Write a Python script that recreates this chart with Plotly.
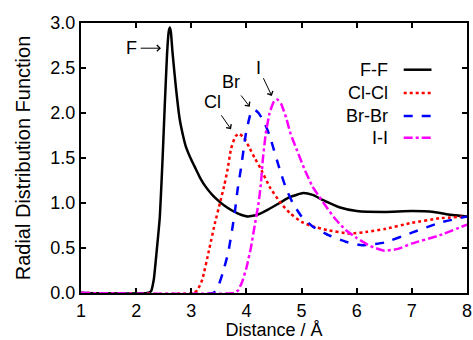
import plotly.graph_objects as go

# ---- data ----
ff_x = [1.0, 2.2, 2.27, 2.32, 2.37, 2.43, 2.48, 2.52, 2.56, 2.59, 2.61, 2.63, 2.66, 2.72, 2.79, 2.85,
        2.9, 3.0, 3.08, 3.16, 3.25, 3.38, 3.52, 3.65, 3.79, 3.9, 4.03, 4.2, 4.4, 4.6, 4.8, 5.03, 5.2,
        5.4, 5.7, 6.0, 6.5, 7.0, 7.4, 7.7, 8.0]
ff_y = [0.0, 0.0, 0.02, 0.15, 0.45, 0.85, 1.5, 2.1, 2.65, 2.9, 2.95, 2.9, 2.67, 2.29, 1.93, 1.75,
        1.63, 1.48, 1.38, 1.28, 1.19, 1.09, 1.01, 0.95, 0.9, 0.87, 0.85, 0.87, 0.93, 1.0, 1.07, 1.11, 1.09,
        1.03, 0.95, 0.91, 0.9, 0.91, 0.9, 0.87, 0.85]

cl_x = [1.0, 3.05, 3.12, 3.2, 3.33, 3.43, 3.52, 3.6, 3.66, 3.72, 3.8, 3.86, 3.95, 4.05, 4.15, 4.26,
        4.42, 4.62, 4.8, 5.0, 5.2, 5.46, 5.87, 6.2, 6.5, 7.0, 7.5, 8.0]
cl_y = [0.0, 0.0, 0.04, 0.15, 0.5, 0.78, 1.0, 1.2, 1.38, 1.6, 1.74, 1.77, 1.73, 1.62, 1.5, 1.38,
        1.18, 1.0, 0.88, 0.79, 0.74, 0.7, 0.66, 0.68, 0.71, 0.78, 0.83, 0.85]

br_x = [1.0, 3.4, 3.48, 3.57, 3.67, 3.74, 3.79, 3.84, 3.9, 3.99, 4.07, 4.14, 4.22, 4.32, 4.42, 4.6,
        4.72, 4.84, 5.0, 5.2, 5.5, 5.8, 6.1, 6.5, 7.0, 7.5, 8.0]
br_y = [0.0, 0.0, 0.06, 0.22, 0.45, 0.7, 0.9, 1.15, 1.38, 1.77, 1.98, 2.04, 2.0, 1.9, 1.75, 1.38,
        1.16, 1.0, 0.85, 0.74, 0.64, 0.57, 0.53, 0.56, 0.67, 0.78, 0.85]

ii_x = [1.0, 3.78, 3.85, 3.92, 4.0, 4.08, 4.15, 4.22, 4.26, 4.3, 4.35, 4.42, 4.5, 4.56, 4.63, 4.72,
        4.8, 4.92, 5.05, 5.2, 5.4, 5.6, 5.8, 6.0, 6.25, 6.5, 6.75, 7.0, 7.5, 8.0]
ii_y = [0.0, 0.0, 0.03, 0.12, 0.28, 0.5, 0.75, 1.0, 1.2, 1.5, 1.77, 2.0, 2.13, 2.15, 2.1, 1.95,
        1.77, 1.58, 1.38, 1.18, 1.0, 0.83, 0.7, 0.61, 0.52, 0.47, 0.49, 0.55, 0.64, 0.76]

series_names = ["F-F", "Cl-Cl", "Br-Br", "I-I"]
x_ticks = [1, 2, 3, 4, 5, 6, 7, 8]
y_ticks = [0.0, 0.5, 1.0, 1.5, 2.0, 2.5, 3.0]
y_tick_labels = ["0.0", "0.5", "1.0", "1.5", "2.0", "2.5", "3.0"]

label_text = ["F", "Cl", "Br", "I"]
label_tip_x = [2.45, 3.72, 4.06, 4.46]
label_tip_y = [2.72, 1.82, 2.07, 2.19]
label_txt_x = [1.92, 3.38, 3.72, 4.22]
label_txt_y = [2.72, 2.12, 2.34, 2.50]

# ---- styles ----
colors = ["black", "#ff0000", "#0000ff", "#ff00ff"]
dashes = ["solid", "dot", "dash", "dashdot"]
FONT = "Liberation Sans, Arial, sans-serif"

fig = go.Figure()
for xs, ys, name, c, d in zip([ff_x, cl_x, br_x, ii_x], [ff_y, cl_y, br_y, ii_y],
                              series_names, colors, dashes):
    fig.add_trace(go.Scatter(x=xs, y=ys, mode="lines", name=name, showlegend=False,
                             line=dict(color=c, width=2.5, dash=d, shape="spline", smoothing=0.4)))

annotations = []
for t, tx, ty, ax, ay in zip(label_text, label_tip_x, label_tip_y, label_txt_x, label_txt_y):
    annotations.append(dict(x=tx, y=ty, xref="x", yref="y", ax=ax, ay=ay, axref="x", ayref="y",
                            text=t, showarrow=True, arrowhead=4, arrowsize=1.2, arrowwidth=1,
                            arrowcolor="black", startstandoff=2,
                            font=dict(family=FONT, size=18, color="black")))

# manual legend (text right-aligned, line sample to the right)
leg_y = [0.827, 0.741, 0.656, 0.575]
shapes = []
for name, c, d, yy in zip(series_names, colors, dashes, leg_y):
    annotations.append(dict(x=0.800, y=yy, xref="paper", yref="paper", text=name, showarrow=False,
                            xanchor="right", yanchor="middle",
                            font=dict(family=FONT, size=18, color="black")))
    shapes.append(dict(type="line", xref="paper", yref="paper", x0=0.836, x1=0.908, y0=yy, y1=yy,
                       line=dict(color=c, width=2.5, dash=d)))

axis_common = dict(showline=True, linecolor="black", linewidth=2, mirror="ticks",
                   ticks="inside", ticklen=5, tickwidth=1.5, tickcolor="black",
                   showgrid=False, zeroline=False, ticklabeloverflow="allow",
                   tickfont=dict(family=FONT, size=18, color="black"))

fig.update_layout(
    width=473, height=340,
    margin=dict(l=81, r=1, t=23, b=45),
    plot_bgcolor="white", paper_bgcolor="white",
    xaxis=dict(range=[1, 8], tickvals=x_ticks, ticktext=[str(v) for v in x_ticks],
               title=dict(text="Distance / Å", font=dict(family=FONT, size=18, color="black"), standoff=6),
               **axis_common),
    yaxis=dict(range=[0, 3], tickvals=y_ticks, ticktext=y_tick_labels,
               title=dict(text="Radial Distribution Function", font=dict(family=FONT, size=20, color="black"), standoff=14),
               **axis_common),
    annotations=annotations,
    shapes=shapes,
    showlegend=False,
)

fig.write_html("out.html", config={"displayModeBar": False},
               post_script="document.body.style.margin='0';document.body.style.padding='0';"
                           "document.documentElement.style.overflow='hidden';")
